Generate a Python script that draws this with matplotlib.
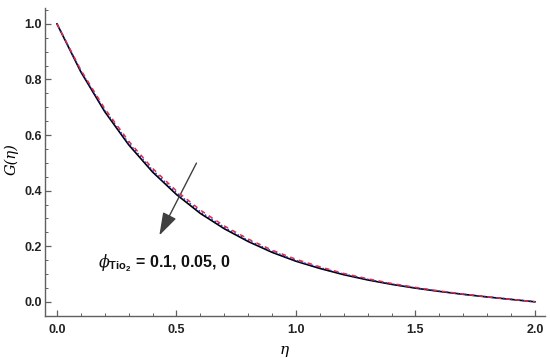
import matplotlib
matplotlib.use('Agg')
import matplotlib.pyplot as plt
from matplotlib.ticker import MultipleLocator

plt.rcParams['mathtext.fontset'] = 'custom'
plt.rcParams['mathtext.bf'] = 'Liberation Sans:bold'
plt.rcParams['mathtext.it'] = 'DejaVu Serif:italic'
plt.rcParams['mathtext.rm'] = 'Liberation Sans:bold'

eta = [0.0, 0.1, 0.2, 0.3, 0.4, 0.5, 0.6, 0.7, 0.8, 0.9, 1.0,
       1.1, 1.2, 1.3, 1.4, 1.5, 1.6, 1.7, 1.8, 1.9, 2.0]
# phi_TiO2 = 0.1, 0.05, 0
G_phi_010 = [1.000, 0.834, 0.695, 0.578, 0.480, 0.399, 0.330, 0.273, 0.226, 0.186, 0.153,
             0.126, 0.102, 0.083, 0.066, 0.052, 0.039, 0.028, 0.018, 0.009, 0.000]
G_phi_005 = [1.000, 0.830, 0.689, 0.571, 0.473, 0.392, 0.324, 0.268, 0.221, 0.182, 0.149,
             0.123, 0.100, 0.081, 0.064, 0.050, 0.038, 0.027, 0.018, 0.009, 0.000]
G_phi_000 = [1.000, 0.827, 0.684, 0.565, 0.467, 0.386, 0.318, 0.263, 0.217, 0.178, 0.146,
             0.120, 0.0975, 0.0787, 0.0628, 0.0492, 0.0374, 0.0269, 0.0174, 0.0086, 0.000]

fig = plt.figure(figsize=(5.5, 3.58), dpi=100)
ax = fig.add_axes([0.0818, 0.117, 0.909, 0.861])

ax.plot(eta, G_phi_000, color='black', lw=1.2, zorder=3)
ax.plot(eta, G_phi_005, color='#2a2ad0', lw=1.1, ls=(0, (1, 1.5)), zorder=4)
ax.plot(eta, G_phi_010, color='#e0304a', lw=1.1, ls=(0, (3, 3)), zorder=5)

ax.set_xlim(-0.0502, 2.042)
ax.set_ylim(-0.0515, 1.0576)

ax.xaxis.set_major_locator(MultipleLocator(0.5))
ax.xaxis.set_minor_locator(MultipleLocator(0.1))
ax.yaxis.set_major_locator(MultipleLocator(0.2))
ax.yaxis.set_minor_locator(MultipleLocator(0.05))

for s in ['top', 'right']:
    ax.spines[s].set_visible(False)
for s in ['left', 'bottom']:
    ax.spines[s].set_color('#606060')
    ax.spines[s].set_linewidth(1.0)

ax.tick_params(which='both', direction='in', color='#606060')
ax.tick_params(which='major', length=4, width=0.9)
ax.tick_params(which='minor', length=2, width=0.7)

ax.set_xticks([0.0, 0.5, 1.0, 1.5, 2.0])
ax.set_xticklabels(['0.0', '0.5', '1.0', '1.5', '2.0'])
ax.set_yticks([0.0, 0.2, 0.4, 0.6, 0.8, 1.0])
ax.set_yticklabels(['0.0', '0.2', '0.4', '0.6', '0.8', '1.0'])
for lab in ax.get_xticklabels() + ax.get_yticklabels():
    lab.set_fontfamily('Liberation Sans')
    lab.set_fontweight('bold')
    lab.set_fontsize(9)
    lab.set_color('#222222')
ax.tick_params(axis='x', pad=6)
ax.tick_params(axis='y', pad=2)

ax.set_xlabel('η', fontfamily='DejaVu Serif', style='italic', fontsize=11)
ax.set_ylabel('G(η)', fontfamily='DejaVu Serif', style='italic', fontsize=10.5)
ax.yaxis.set_label_coords(-0.052, 0.51)
ax.xaxis.set_label_coords(0.478, -0.088)

ax.annotate('', xy=(0.423, 0.230), xytext=(0.589, 0.508),
            arrowprops=dict(arrowstyle='-|>,head_length=1.4,head_width=0.45',
                            color='#404040', lw=1.0))

ax.text(0.172, 0.139, r'$\phi_{\mathbf{Tio_2}}$ = 0.1, 0.05, 0',
        fontfamily='Liberation Sans', fontweight='bold', fontsize=11.5,
        va='center', ha='left', color='#111111')

fig.savefig('out.png', dpi=100)
